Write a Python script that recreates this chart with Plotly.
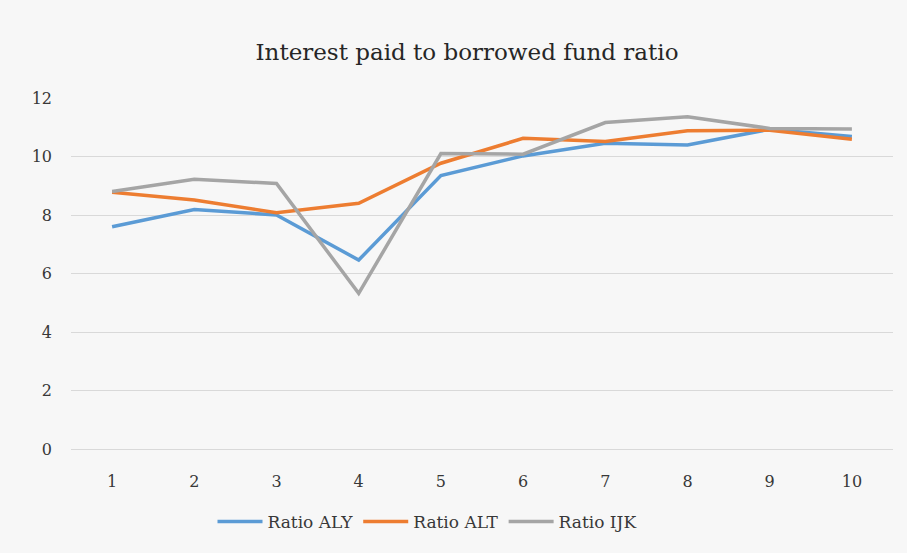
import plotly.graph_objects as go

periods = [1, 2, 3, 4, 5, 6, 7, 8, 9, 10]
ratio_aly = [7.6, 8.19, 8.0, 6.46, 9.35, 10.02, 10.45, 10.39, 10.93, 10.68]
ratio_alt = [8.78, 8.51, 8.08, 8.4, 9.77, 10.62, 10.51, 10.88, 10.9, 10.59]
ratio_ijk = [8.8, 9.22, 9.08, 5.32, 10.1, 10.08, 11.16, 11.36, 10.96, 10.94]
y_ticks = [0, 2, 4, 6, 8, 10, 12]

series = [
    ("Ratio ALY", ratio_aly, "#5b9bd5"),
    ("Ratio ALT", ratio_alt, "#ed7d31"),
    ("Ratio IJK", ratio_ijk, "#a5a5a5"),
]

fig = go.Figure()
for name, vals, color in series:
    fig.add_trace(go.Scatter(
        x=periods, y=vals, name=name, mode="lines",
        line=dict(color=color, width=3.5),
    ))

font_family = "DejaVu Serif"
fig.update_layout(
    width=907, height=553,
    margin=dict(l=71, r=14, t=98, b=104),
    paper_bgcolor="#f7f7f7",
    plot_bgcolor="#f7f7f7",
    font=dict(family=font_family, color="#383838", size=16),
    title=dict(
        text="Interest paid to borrowed fund ratio",
        x=467 / 907, xanchor="center", y=1 - 52 / 553, yanchor="middle",
        font=dict(family=font_family, size=23, color="#262626"),
    ),
    xaxis=dict(
        range=[0.5, 10.5], tickmode="array", tickvals=periods,
        ticktext=[str(p) for p in periods],
        showgrid=False, zeroline=False,
        showline=True, linecolor="#d9d9d9", linewidth=1,
        ticks="", ticklabelstandoff=18,
    ),
    yaxis=dict(
        range=[0, 12], tickvals=y_ticks,
        showgrid=True, gridcolor="#d9d9d9", gridwidth=1,
        zeroline=False, ticks="", ticklabelstandoff=18,
    ),
    legend=dict(
        orientation="h", xref="container", yref="container",
        x=427 / 907, xanchor="center", y=1 - 522 / 553, yanchor="middle",
        font=dict(family=font_family, size=17, color="#383838"),
        itemwidth=45, bgcolor="rgba(0,0,0,0)",
    ),
    showlegend=True,
)

fig.write_html("out.html")
